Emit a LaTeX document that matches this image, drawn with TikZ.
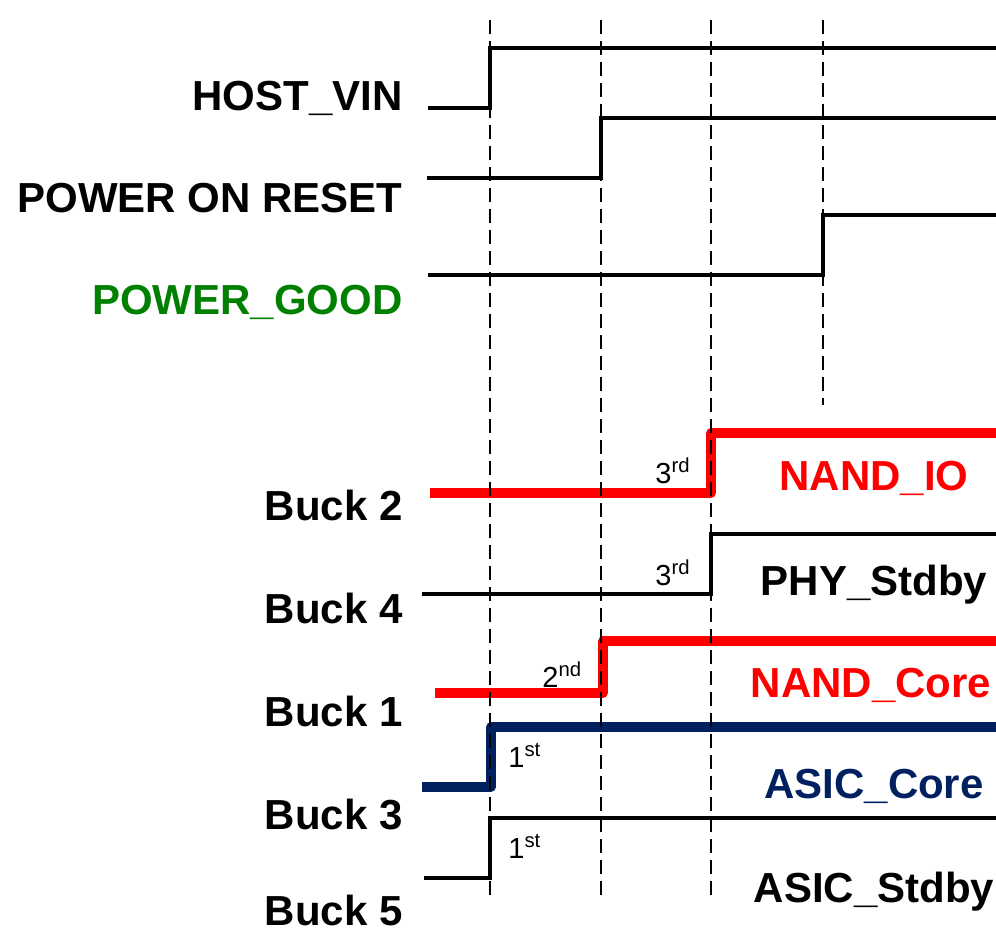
\documentclass[tikz,border=0pt]{standalone}
\usepackage{fontspec}
\setmainfont{Liberation Sans}
\usepackage{tikz}
\usepackage{xcolor}

\definecolor{nandred}{RGB}{255,0,0}
\definecolor{asicblue}{RGB}{0,32,96}
\definecolor{pggreen}{RGB}{0,128,0}

\tikzset{
  siglabel/.style={font=\fontsize{21}{25}\selectfont\bfseries, anchor=base east, inner sep=0pt},
  raillabel/.style={font=\fontsize{21}{25}\selectfont\bfseries, anchor=base, inner sep=0pt},
  order/.style={font=\fontsize{14.5}{17}\selectfont, anchor=base west, inner sep=0pt},
  wave/.style={line width=2pt},
  thinwave/.style={line width=1.6pt},
  railwave/.style={line width=4.6pt, line join=round},
  guide/.style={line width=0.75pt, dash pattern=on 7pt off 3.5pt}
}

\begin{document}
\begin{tikzpicture}[x=0.5pt, y=-0.5pt]
    \useasboundingbox (0,0) rectangle (996,932);

    % control signals
    \node[siglabel] (vin) at (403,110) {HOST\_VIN};
    \node[siglabel] (por) at (403,212) {POWER ON RESET};
    \node[siglabel, text=pggreen] (pgood) at (403,314) {POWER\_GOOD};

    \draw[wave] (428,108) -- (490,108) -- (490,48) -- (996,48);
    \draw[wave] (427,178) -- (601,178) -- (601,118) -- (996,118);
    \draw[wave] (428,275) -- (823,275) -- (823,215) -- (996,215);

    % buck rails
    \node[siglabel] (buck2) at (403,520) {Buck 2};
    \node[siglabel] (buck4) at (403,623) {Buck 4};
    \node[siglabel] (buck1) at (403,726) {Buck 1};
    \node[siglabel] (buck3) at (403,829) {Buck 3};
    \node[siglabel] (buck5) at (403,925) {Buck 5};

    \draw[railwave, nandred] (430,493) -- (711,493) -- (711,433) -- (1000,433);
    \draw[thinwave] (422,594) -- (711,594) -- (711,534) -- (996,534);
    \draw[railwave, nandred] (435,693) -- (603,693) -- (603,641) -- (1000,641);
    \draw[railwave, asicblue] (422,787) -- (491,787) -- (491,727) -- (1000,727);
    \draw[wave] (424,878) -- (490,878) -- (490,818) -- (996,818);

    \node[raillabel, text=nandred] (nandio) at (874,490) {NAND\_IO};
    \node[raillabel] (phy) at (874,595) {PHY\_Stdby};
    \node[raillabel, text=nandred] (nandcore) at (871,697) {NAND\_Core};
    \node[raillabel, text=asicblue] (asiccore) at (874,798) {ASIC\_Core};
    \node[raillabel] (asicstdby) at (874,902) {ASIC\_Stdby};

    % sequence order
    \node[order] (ord2) at (655,483) {3\textsuperscript{rd}};
    \node[order] (ord4) at (655,585) {3\textsuperscript{rd}};
    \node[order] (ord1) at (542,687) {2\textsuperscript{nd}};
    \node[order] (ord3) at (508,767) {1\textsuperscript{st}};
    \node[order] (ord5) at (508,858) {1\textsuperscript{st}};

    % timing marks
    \foreach \x/\yend in {490/895, 601/898, 711/895, 823/405}
        \draw[guide] (\x,20) -- (\x,\yend);
\end{tikzpicture}
\end{document}
